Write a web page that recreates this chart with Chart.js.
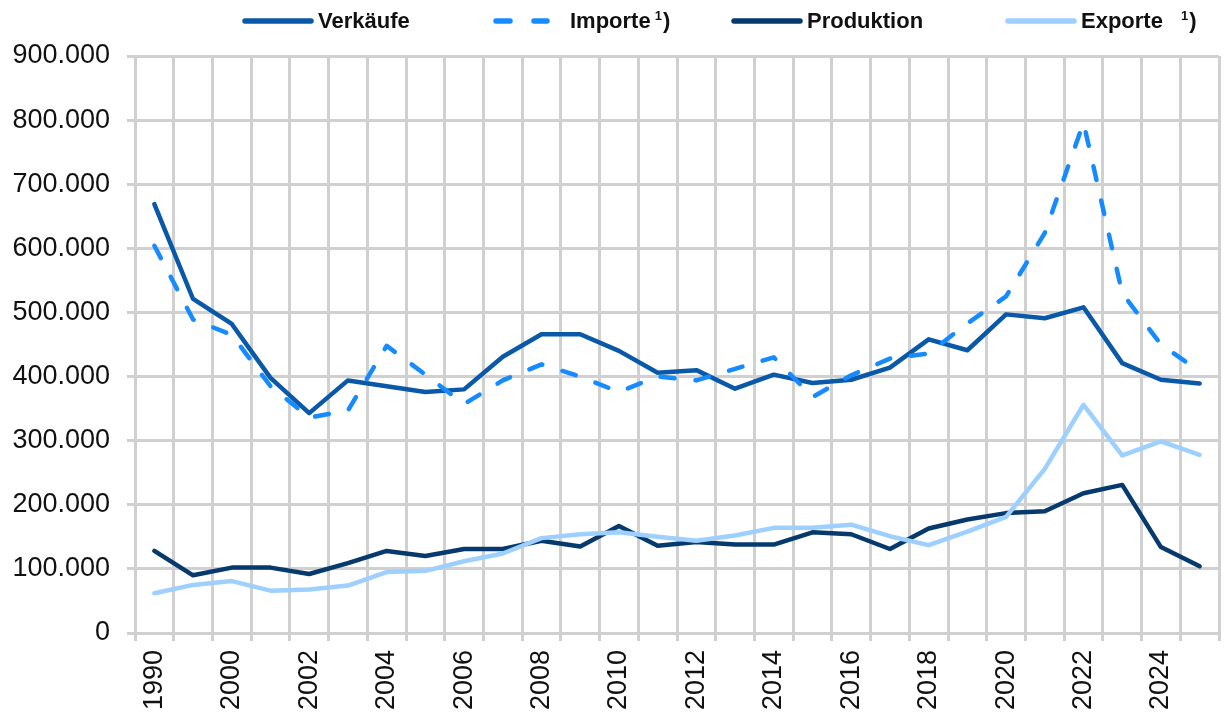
<!DOCTYPE html>
<html>
<head>
<meta charset="utf-8">
<script src="https://cdn.jsdelivr.net/npm/chart.js@4.4.1/dist/chart.umd.min.js"></script>
<style>
  html, body { margin: 0; padding: 0; background: #fff; }
</style>
</head>
<body>
<canvas id="chart" width="1225" height="716"></canvas>
<script>
// Jahre (zweite Kategorie ohne Beschriftung)
const years = ['1990', '1995', '2000', '2001', '2002', '2003', '2004', '2005', '2006', '2007',
  '2008', '2009', '2010', '2011', '2012', '2013', '2014', '2015', '2016', '2017',
  '2018', '2019', '2020', '2021', '2022', '2023', '2024', '2025'];

const verkaeufe = [669000, 521000, 482000, 398000, 343000, 394000, 385000, 376000, 380000, 431000,
  466000, 466000, 440000, 406000, 410000, 381000, 403000, 390000, 395000, 414000,
  458000, 441000, 497000, 491000, 508000, 421000, 395000, 389000];

const importe = [604000, 489000, 465000, 385000, 336000, 347000, 448000, 403000, 357000, 394000,
  419000, 400000, 376000, 400000, 394000, 412000, 430000, 368000, 402000, 428000,
  436000, 483000, 525000, 624000, 796000, 530000, 450000, 408000];

const produktion = [128000, 90000, 102000, 102000, 92000, 109000, 128000, 120000, 131000, 131000,
  144000, 135000, 167000, 136000, 142000, 138000, 138000, 157000, 154000, 131000,
  163000, 177000, 187000, 190000, 218000, 231000, 134000, 104000];

const exporte = [62000, 75000, 81000, 66000, 68000, 74000, 95000, 97000, 112000, 124000,
  148000, 154000, 157000, 150000, 144000, 152000, 164000, 164000, 169000, 151000,
  137000, 158000, 181000, 256000, 356000, 277000, 299000, 278000];

const seriesNames = ['Verkäufe', 'Importe', 'Produktion', 'Exporte'];
const footnotes = ['', '1)', '', '1)'];

const FONT = "'Liberation Sans', Arial, sans-serif";

// Format with dot as thousands separator
function formatNumber(val) {
  return String(val).replace(/\B(?=(\d{3})+(?!\d))/g, '.');
}

// Legend drawn above the plot
const legendPos = [242, 493, 731, 1005];
const footnoteGap = [0, 4, 0, 18];

const topLegend = {
  id: 'topLegend',
  afterDraw(chart) {
    const ctx = chart.ctx;
    const y = 21;
    chart.data.datasets.forEach(function(ds, i) {
      const x = legendPos[i];
      ctx.save();
      ctx.strokeStyle = ds.borderColor;
      ctx.lineWidth = 5.5;
      ctx.lineCap = 'round';
      if (ds.borderDash) {
        ctx.setLineDash([14, 24]);
        ctx.beginPath();
        ctx.moveTo(x + 3, y);
        ctx.lineTo(x + 54, y);
        ctx.stroke();
      } else {
        ctx.beginPath();
        ctx.moveTo(x + 3, y);
        ctx.lineTo(x + 69, y);
        ctx.stroke();
      }
      ctx.setLineDash([]);

      const tx = ds.borderDash ? x + 77 : x + 76;
      ctx.fillStyle = '#111';
      ctx.textBaseline = 'middle';
      ctx.textAlign = 'left';
      ctx.font = 'bold 22px ' + FONT;
      ctx.fillText(ds.label, tx, y + 1);
      if (footnotes[i]) {
        let fx = tx + ctx.measureText(ds.label).width + footnoteGap[i];
        ctx.font = 'bold 13px ' + FONT;
        ctx.fillText('1', fx, y - 5);
        fx += ctx.measureText('1').width + 1;
        ctx.font = 'bold 22px ' + FONT;
        ctx.fillText(')', fx, y + 1);
      }
      ctx.restore();
    });
  }
};

const colors = ['#0a58a8', '#168bff', '#063a6c', '#9dcfff'];
const values = [verkaeufe, importe, produktion, exporte];

const datasets = seriesNames.map(function(name, i) {
  const ds = {
    label: name,
    data: values[i],
    borderColor: colors[i],
    backgroundColor: colors[i],
    borderWidth: 4.5,
    pointRadius: 0,
    tension: 0,
    fill: false,
    borderJoinStyle: 'round',
    borderCapStyle: 'round',
    order: 4 - i
  };
  if (name === 'Importe') ds.borderDash = [14, 21];
  return ds;
});

const ctx = document.getElementById('chart').getContext('2d');
new Chart(ctx, {
  type: 'line',
  data: { labels: years, datasets: datasets },
  plugins: [topLegend],
  options: {
    responsive: false,
    animation: false,
    layout: { padding: { top: 56, right: 6, left: 0, bottom: 0 } },
    plugins: {
      legend: { display: false },
      tooltip: { enabled: false }
    },
    scales: {
      x: {
        offset: true,
        grid: { offset: true, color: '#d0d0d0', lineWidth: 3, tickLength: 8 },
        border: { display: false },
        ticks: {
          autoSkip: false,
          maxRotation: 90,
          minRotation: 90,
          padding: 9,
          color: '#111',
          font: { family: FONT, size: 27 },
          callback: function(value, index) {
            return index % 2 === 0 ? this.getLabelForValue(value) : '';
          }
        },
        afterFit: function(scale) {
          scale.height = 83;
          scale.paddingLeft = 0;
          scale.paddingRight = 0;
        }
      },
      y: {
        min: 0,
        max: 900000,
        grid: { color: '#d0d0d0', lineWidth: 3, tickLength: 8 },
        border: { display: false },
        ticks: {
          stepSize: 100000,
          padding: 17,
          color: '#111',
          font: { family: FONT, size: 27 },
          callback: function(value) { return formatNumber(value); }
        },
        afterFit: function(scale) {
          scale.width = 135;
          scale.paddingTop = 0;
          scale.paddingBottom = 0;
        }
      }
    }
  }
});
</script>
</body>
</html>
